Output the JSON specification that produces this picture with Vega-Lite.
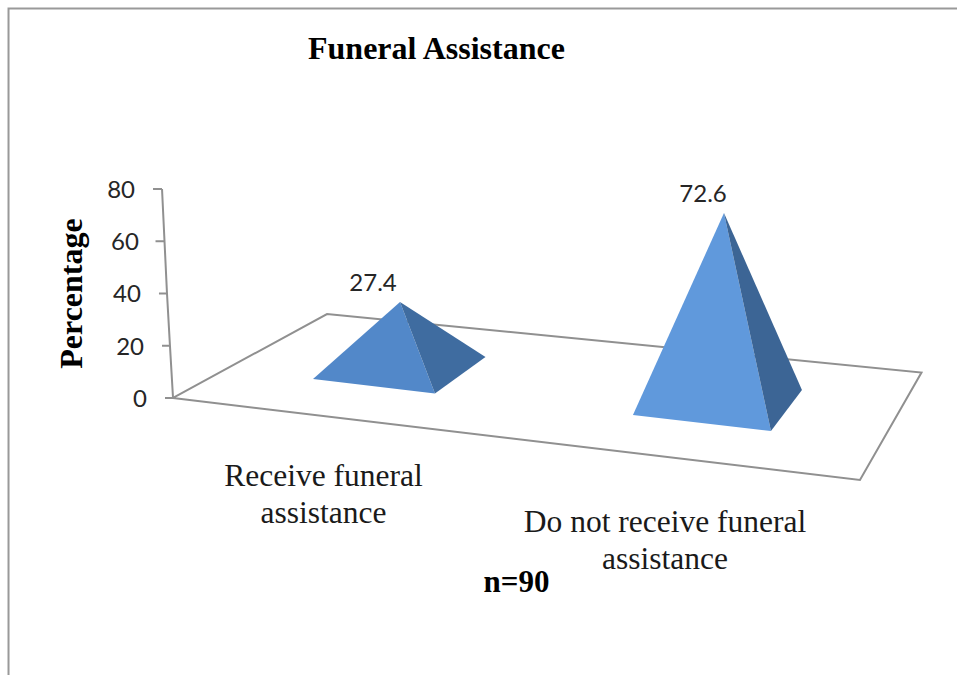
{
  "$schema": "https://vega.github.io/schema/vega-lite/v6.json",
  "width": 957,
  "height": 675,
  "autosize": "none",
  "padding": 0,
  "background": "white",
  "config": {"view": {"stroke": null}},
  "title": {
    "text": "Funeral Assistance",
    "anchor": "start",
    "frame": "group",
    "offset": 0,
    "dx": 308,
    "dy": 91,
    "baseline": "alphabetic",
    "font": "Liberation Serif",
    "fontSize": 32,
    "fontWeight": "bold",
    "color": "#000000"
  },
  "datasets": {
    "frame": [
      {"x": 0.89, "y": -106, "order": 0},
      {"x": 0.89, "y": 149.1, "order": 1},
      {"x": 100, "y": 149.1, "order": 2}
    ],
    "floor": [
      {"x": 18.08, "y": 0, "order": 0},
      {"x": 34.17, "y": 32.15, "order": 1},
      {"x": 96.29, "y": 9.76, "order": 2},
      {"x": 89.86, "y": -31.39, "order": 3},
      {"x": 18.08, "y": 0, "order": 4}
    ],
    "ticks": [
      {"y": 80, "x": 15.99, "xEnd": 16.93, "labelX": 14.11},
      {"y": 60, "x": 16.25, "xEnd": 17.19, "labelX": 14.52},
      {"y": 40, "x": 16.61, "xEnd": 17.45, "labelX": 14.73},
      {"y": 20, "x": 16.93, "xEnd": 17.76, "labelX": 15.05},
      {"y": 0, "x": 17.24, "xEnd": 18.08, "labelX": 15.36}
    ],
    "faces": [
      {"face": "receive front", "order": 0, "x": 41.8, "floor": 9.35, "height": 27.4},
      {"face": "receive front", "order": 1, "x": 32.71, "floor": 7.27, "height": 0},
      {"face": "receive front", "order": 2, "x": 45.45, "floor": 1.72, "height": 0},
      {"face": "receive side", "order": 0, "x": 41.8, "floor": 9.35, "height": 27.4},
      {"face": "receive side", "order": 1, "x": 45.45, "floor": 1.72, "height": 0},
      {"face": "receive side", "order": 2, "x": 50.73, "floor": 15.69, "height": 0},
      {"face": "decline front", "order": 0, "x": 75.65, "floor": -1.79, "height": 72.6},
      {"face": "decline front", "order": 1, "x": 66.14, "floor": -6.51, "height": 0},
      {"face": "decline front", "order": 2, "x": 80.56, "floor": -12.63, "height": 0},
      {"face": "decline side", "order": 0, "x": 75.65, "floor": -1.79, "height": 72.6},
      {"face": "decline side", "order": 1, "x": 80.56, "floor": -12.63, "height": 0},
      {"face": "decline side", "order": 2, "x": 83.8, "floor": 3.06, "height": 0}
    ],
    "bars": [
      {"category": "Receive funeral|assistance", "value": 27.4, "floor": 9.35, "valueX": 38.98, "x": 33.8, "y": -30.2},
      {"category": "Do not receive funeral|assistance", "value": 72.6, "floor": -1.79, "valueX": 73.46, "x": 69.49, "y": -47.8}
    ]
  },
  "encoding": {
    "x": {
      "field": "x",
      "type": "quantitative",
      "scale": {"domain": [0, 100], "range": [0, 957], "nice": false, "zero": false},
      "axis": {
        "orient": "top",
        "title": "n=90",
        "domain": false,
        "ticks": false,
        "labels": false,
        "grid": false,
        "titleX": 516,
        "titleY": 582,
        "titleAlign": "center",
        "titleBaseline": "middle",
        "titleFont": "Liberation Serif",
        "titleFontSize": 31,
        "titleFontWeight": "bold",
        "titleColor": "#000000"
      }
    },
    "y": {
      "field": "y",
      "type": "quantitative",
      "scale": {"domain": [152.34, -106.03], "range": [0, 675], "nice": false, "zero": false},
      "axis": {
        "orient": "left",
        "title": "Percentage",
        "domain": false,
        "ticks": false,
        "labels": false,
        "grid": false,
        "titleX": 71,
        "titleY": 293,
        "titleAngle": 270,
        "titleAlign": "center",
        "titleBaseline": "middle",
        "titleFont": "Liberation Serif",
        "titleFontSize": 32,
        "titleFontWeight": "bold",
        "titleColor": "#000000"
      }
    }
  },
  "layer": [
    {
      "data": {"name": "frame"},
      "mark": {"type": "line", "stroke": "#999999", "strokeWidth": 2},
      "encoding": {"order": {"field": "order"}}
    },
    {
      "data": {"name": "floor"},
      "mark": {"type": "line", "stroke": "#909090", "strokeWidth": 2},
      "encoding": {"order": {"field": "order"}}
    },
    {
      "data": {"name": "ticks"},
      "mark": {"type": "line", "stroke": "#909090", "strokeWidth": 2},
      "encoding": {"x": {"field": "xEnd", "type": "quantitative"}}
    },
    {
      "data": {"name": "ticks"},
      "mark": {"type": "rule", "stroke": "#909090", "strokeWidth": 2},
      "encoding": {"x2": {"field": "xEnd"}}
    },
    {
      "data": {"name": "ticks"},
      "mark": {"type": "text", "align": "right", "baseline": "middle", "dy": 2, "font": "Lato", "fontSize": 24, "fill": "#262626"},
      "encoding": {
        "x": {"field": "labelX", "type": "quantitative"},
        "text": {"field": "y", "type": "quantitative"}
      }
    },
    {
      "data": {"name": "faces"},
      "transform": [{"calculate": "datum.floor + datum.height", "as": "y"}],
      "mark": {"type": "line", "strokeWidth": 0},
      "encoding": {
        "order": {"field": "order"},
        "fill": {
          "field": "face",
          "type": "nominal",
          "legend": null,
          "scale": {
            "domain": ["receive front", "receive side", "decline front", "decline side"],
            "range": ["#5288c9", "#3f6ca0", "#6099dc", "#3c6595"]
          }
        }
      }
    },
    {
      "data": {"name": "bars"},
      "transform": [{"calculate": "datum.floor + datum.value", "as": "y"}],
      "mark": {"type": "text", "align": "center", "baseline": "middle", "dy": -18, "font": "Lato", "fontSize": 24, "fill": "#262626"},
      "encoding": {
        "x": {"field": "valueX", "type": "quantitative"},
        "text": {"field": "value", "type": "quantitative", "format": ".1f"}
      }
    },
    {
      "data": {"name": "bars"},
      "mark": {"type": "text", "align": "center", "baseline": "middle", "lineBreak": "|", "lineHeight": 37, "font": "Liberation Serif", "fontSize": 31.5, "fill": "#1a1a1a"},
      "encoding": {"text": {"field": "category", "type": "nominal"}}
    }
  ]
}
